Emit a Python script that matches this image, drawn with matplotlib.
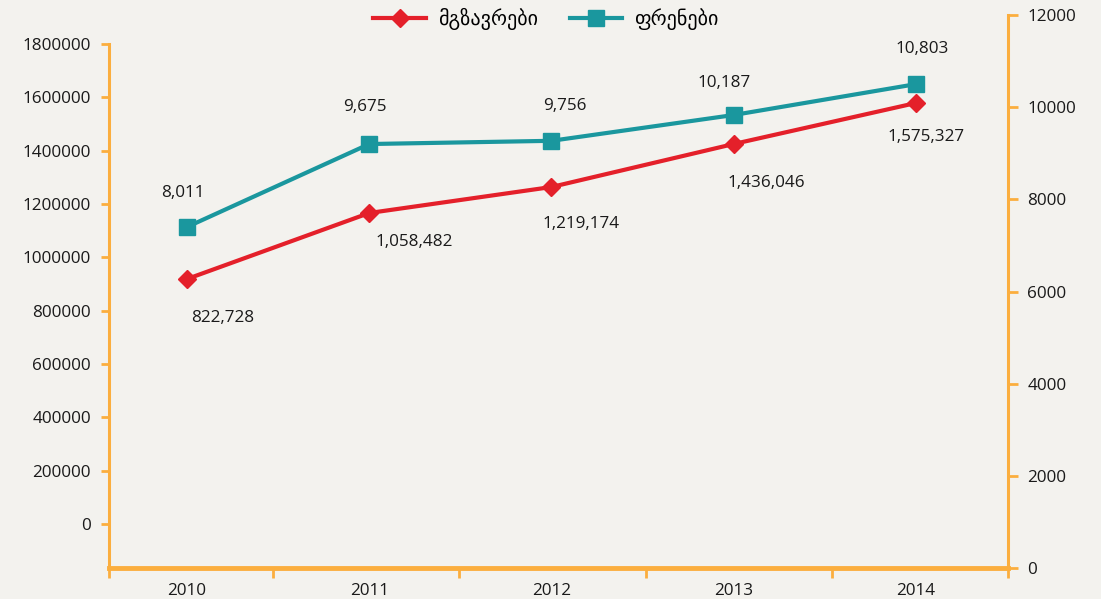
#!/usr/bin/env python
import matplotlib
matplotlib.use("Agg")
import matplotlib.pyplot as plt

# data
years = [2010, 2011, 2012, 2013, 2014]
passengers = [918750, 1166250, 1263750, 1425000, 1578750]   # left axis (plotted)
flights = [7400, 9200, 9270, 9830, 10500]                    # right axis (plotted)
passenger_labels = ["822,728", "1,058,482", "1,219,174", "1,436,046", "1,575,327"]
flight_labels = ["8,011", "9,675", "9,756", "10,187", "10,803"]
left_ticks = [0, 200000, 400000, 600000, 800000, 1000000, 1200000, 1400000, 1600000, 1800000]
right_ticks = [0, 2000, 4000, 6000, 8000, 10000, 12000]

bg = "#f3f2ee"
red = "#e4202a"
teal = "#1a979e"
orange = "#fbae3e"
txt = "#1a1a1a"

plt.rcParams['font.family'] = ['Open Sans', 'DejaVu Sans']
fs = 12.3

fig = plt.figure(figsize=(11.01, 5.99), dpi=100, facecolor=bg)
ax = fig.add_axes([109/1101, 1-568/599, (1008-109)/1101, (568-15)/599])
ax.set_facecolor(bg)
ax2 = ax.twinx()

l1, = ax.plot(years, passengers, color=red, lw=3, marker='D', ms=9,
              label="მგზავრები", zorder=3)
l2, = ax2.plot(years, flights, color=teal, lw=3, marker='s', ms=11,
               label="ფრენები", zorder=3)

# value labels
red_off = [(36, -39), (45, -29), (30, -37), (33, -39), (10, -34)]
teal_off = [(-4, 34), (-4, 37), (13, 35), (-10, 32), (6, 35)]
for x, y, s, o in zip(years, passengers, passenger_labels, red_off):
    ax.annotate(s, (x, y), xytext=o, textcoords='offset pixels',
                ha='center', va='center', color=txt, fontsize=fs)
for x, y, s, o in zip(years, flights, flight_labels, teal_off):
    ax2.annotate(s, (x, y), xytext=o, textcoords='offset pixels',
                 ha='center', va='center', color=txt, fontsize=fs)

# axes limits
ax.set_xlim(2009.572, 2014.505)
ax.set_ylim(-165000, 1908750)
ax2.set_ylim(0, 12000)

ax.set_yticks(left_ticks)
ax.set_yticklabels([str(v) for v in left_ticks])
ax2.set_yticks(right_ticks)
ax2.set_yticklabels([str(v) for v in right_ticks])

ax.set_xticks(years)
ax.set_xticklabels([str(y) for y in years])
ax.set_xticks([2009.572, 2010.47, 2011.49, 2012.52, 2013.54, 2014.505], minor=True)

# spines
for a in (ax, ax2):
    a.spines['top'].set_visible(False)
ax.spines['right'].set_visible(False)
ax2.spines['left'].set_visible(False)
ax2.spines['bottom'].set_visible(False)
ax.spines['left'].set_color(orange)
ax.spines['left'].set_linewidth(2.2)
ax.spines['left'].set_bounds(-165000, 1800000)
ax.spines['bottom'].set_color(orange)
ax.spines['bottom'].set_linewidth(3.5)
ax2.spines['right'].set_color(orange)
ax2.spines['right'].set_linewidth(2.2)

ax.tick_params(axis='y', colors=orange, labelcolor=txt, length=6, width=2, pad=7, labelsize=fs)
ax2.tick_params(axis='y', colors=orange, labelcolor=txt, length=7, width=2, pad=7, labelsize=fs)
ax.tick_params(axis='x', which='major', length=0, pad=11, labelcolor=txt, labelsize=fs)
ax.tick_params(axis='x', which='minor', length=7, width=2, color=orange)

fig.legend(handles=[l1, l2], loc='center', bbox_to_anchor=(0.496, 0.968), ncol=2,
           frameon=False, fontsize=14.5, handlelength=2.6, columnspacing=1.6,
           handletextpad=0.6)

plt.savefig('out.png', dpi=100, facecolor=bg)
